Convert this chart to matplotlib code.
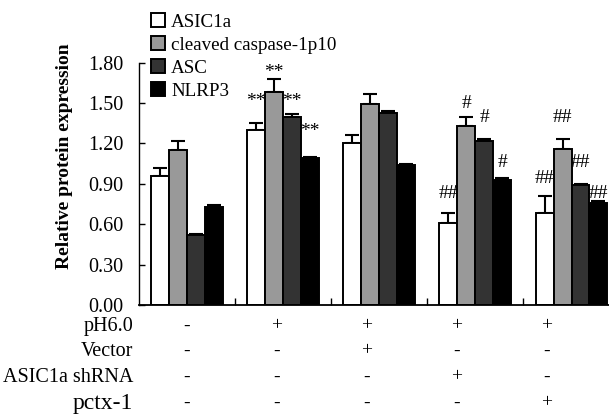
import matplotlib.pyplot as plt
import numpy as np

plt.rcParams['font.family'] = ['Liberation Serif', 'DejaVu Serif']

# data
series = ['ASIC1a', 'cleaved caspase-1p10', 'ASC', 'NLRP3']
colors = ['#ffffff', '#999999', '#333333', '#000000']
means = [
    [0.96, 1.30, 1.20, 0.61, 0.68],   # ASIC1a
    [1.15, 1.58, 1.49, 1.33, 1.16],   # cleaved caspase-1p10
    [0.52, 1.40, 1.43, 1.22, 0.89],   # ASC
    [0.73, 1.09, 1.04, 0.93, 0.76],   # NLRP3
]
errs = [
    [0.06, 0.05, 0.06, 0.07, 0.13],
    [0.07, 0.10, 0.08, 0.07, 0.07],
    [0.01, 0.02, 0.01, 0.01, 0.01],
    [0.01, 0.01, 0.01, 0.01, 0.01],
]
# significance marks: (group, series, label, y)
marks = [
    (1, 0, '**', 1.51), (1, 1, '**', 1.73), (1, 2, '**', 1.51), (1, 3, '**', 1.29),
    (3, 0, '##', 0.83), (3, 1, '#', 1.50), (3, 2, '#', 1.39), (3, 3, '#', 1.055),
    (4, 0, '##', 0.94), (4, 1, '##', 1.39), (4, 2, '##', 1.055), (4, 3, '##', 0.83),
]
conditions = ['pH6.0', 'Vector', 'ASIC1a shRNA', 'pctx-1']
signs = [
    ['-', '+', '+', '+', '+'],
    ['-', '-', '+', '-', '-'],
    ['-', '-', '-', '+', '-'],
    ['-', '-', '-', '-', '+'],
]
yticks = [0.0, 0.3, 0.6, 0.9, 1.2, 1.5, 1.8]

fig = plt.figure(figsize=(6.09, 4.15), dpi=100)
ax = fig.add_axes([139 / 609, 110 / 415, 470 / 609, 242.3 / 415])

x = np.arange(5)
w = 0.187
for i in range(4):
    pos = x + (i - 1.5) * w
    ax.bar(pos, means[i], w, color=colors[i], edgecolor='black', linewidth=1.4,
           label=series[i], zorder=2)
    ax.errorbar(pos, means[i], yerr=[np.zeros(5), errs[i]], fmt='none',
                ecolor='black', elinewidth=1.5, capsize=5, capthick=1.5, zorder=1)

for g, s, lab, yv in marks:
    ax.text(g + (s - 1.5) * w, yv, lab, ha='center', va='center', fontsize=14)

ax.set_xlim(-0.5, 4.39)
ax.set_ylim(0, 1.8)
ax.set_yticks(yticks)
ax.set_yticklabels([f'{t:.2f}' for t in yticks], fontsize=14.5)
ax.set_xticks([0.5, 1.5, 2.5, 3.5])
ax.set_xticklabels([])
ax.tick_params(axis='x', direction='in', length=5, width=1)
ax.tick_params(axis='y', direction='in', length=4, width=1, pad=11)
ax.spines['top'].set_visible(False)
ax.spines['right'].set_visible(False)
ax.spines['left'].set_linewidth(1)
ax.spines['bottom'].set_linewidth(1.3)
ax.set_ylabel('Relative protein expression', fontsize=14, fontweight='bold')
ax.yaxis.set_label_coords(-0.140, 0.615)

leg = ax.legend(loc='upper left', bbox_to_anchor=(0.01, 1.235), frameon=False,
                fontsize=13.7, handlelength=0.7, handleheight=0.7,
                handletextpad=0.35, labelspacing=0.3, borderaxespad=0)

# condition table below the axis
row_y = [326, 351, 377, 403]
sign_x = x * 0.935
for r, name in enumerate(conditions):
    yf = 1 - row_y[r] / 415
    fs = 17 if name == 'pctx-1' else 14.5
    fig.text(133 / 609, yf, name, ha='right', va='center', fontsize=fs)
    for g in range(5):
        xf = ax.transData.transform((sign_x[g], 0))[0] / fig.bbox.width
        fig.text(xf, yf, signs[r][g], ha='center', va='center', fontsize=14)

fig.savefig('out.png', dpi=100)
